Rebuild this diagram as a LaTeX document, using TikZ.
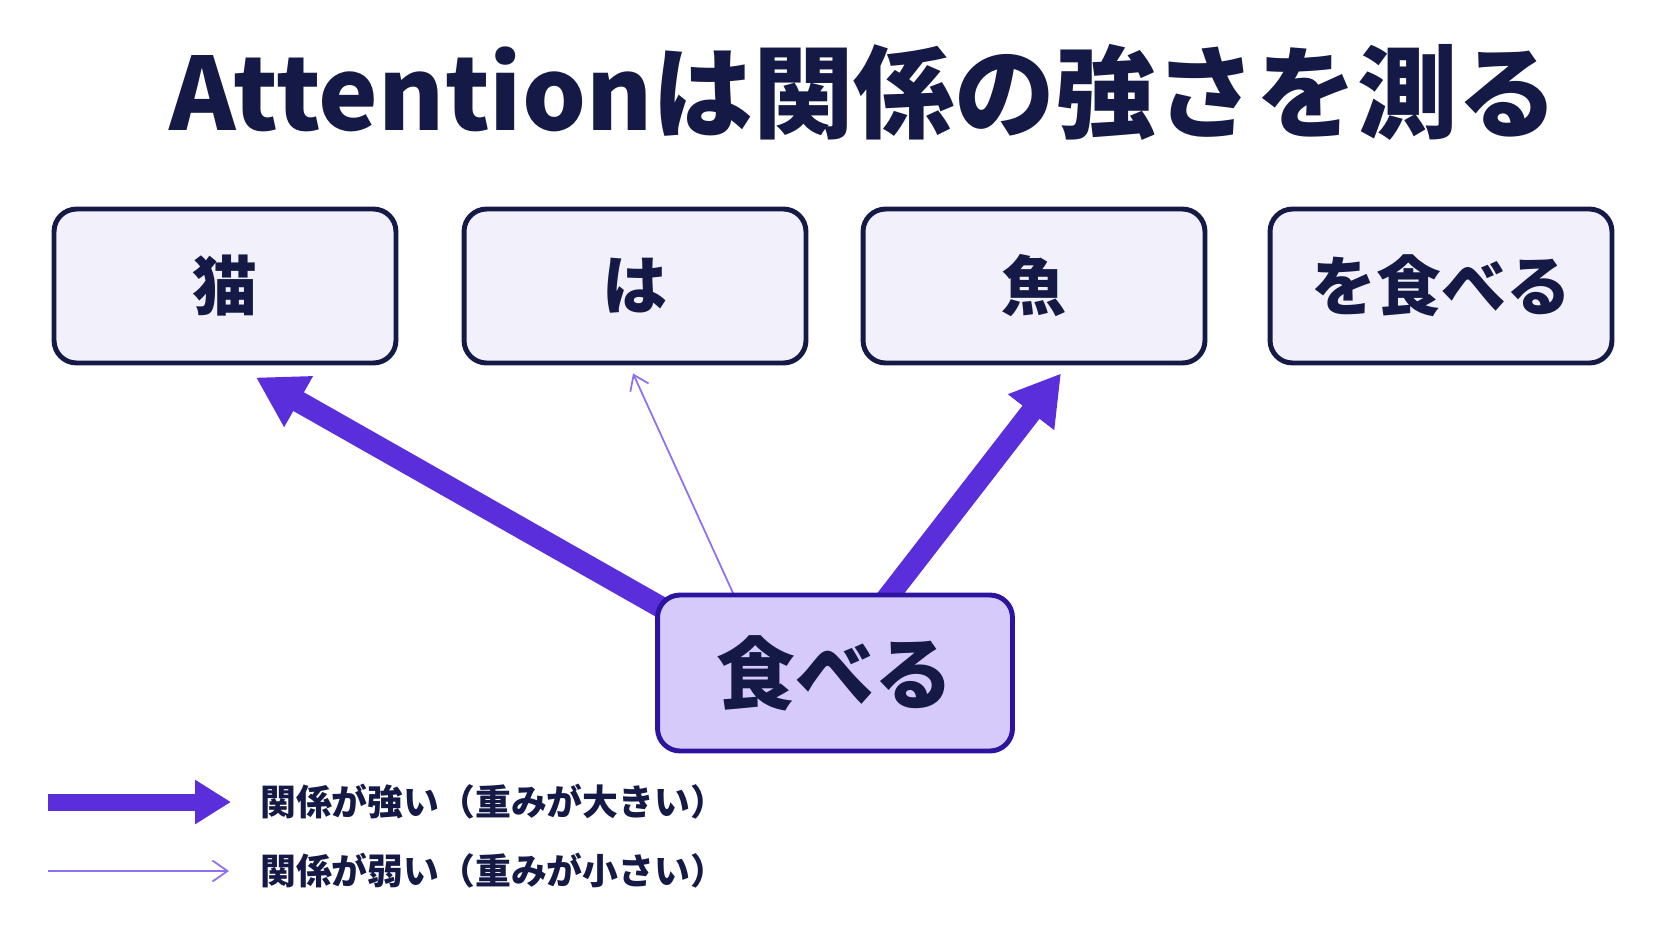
\documentclass[tikz,border=0pt]{standalone}
\usepackage{fontspec}
\setmainfont{Noto Sans CJK JP}
\usetikzlibrary{positioning, calc, arrows.meta, backgrounds}
\definecolor{navy}{HTML}{141A45}
\definecolor{boxfill}{HTML}{F1F0FB}
\definecolor{focusfill}{HTML}{D6CAFB}
\definecolor{focusline}{HTML}{2C149E}
\definecolor{strongc}{HTML}{5B2EDC}
\definecolor{weakc}{HTML}{8E70F2}

\begin{document}
\begin{tikzpicture}[x=0.02cm, y=-0.02cm,
    word/.style={draw=navy, line width=2.8pt, fill=boxfill, rounded corners=0.45cm,
        minimum width=6.84cm, minimum height=3.08cm, text=navy,
        font=\bfseries\fontsize{37}{40}\selectfont},
    focus/.style={word, draw=focusline, fill=focusfill, minimum width=7.1cm,
        minimum height=3.12cm, font=\bfseries\fontsize{45}{48}\selectfont},
    strong/.style={strongc, line width=0.43cm, -{Triangle[length=0.98cm, width=1.1cm]}},
    weak/.style={weakc, line width=1pt, -{Straight Barb[length=0.28cm, width=0.4cm]}},
    keytext/.style={anchor=west, text=navy, font=\bfseries\fontsize{20.4}{22}\selectfont}]
    % Canvas
    \useasboundingbox (0,0) rectangle (1672,941);

    % Title
    \node[text=navy, font=\bfseries\fontsize{57.3}{62}\selectfont] (title) at (864,92)
        {Attentionは関係の強さを測る};

    % Word boxes
    \node[word] (neko) at (225,286) {猫};
    \node[word] (ha) at (635,286) {は};
    \node[word] (sakana) at (1034,286) {魚};
    \node[word] (taberu) at (1441,286) {を食べる};

    % Query word
    \node[focus] (eat) at (835,673) {食べる};

    % Attention weights
    \begin{scope}[on background layer]
        \draw[strong] ($(eat.north west)+(47,38)$) -- ($(neko.south)+(31,12)$);
        \draw[weak] ($(eat.north west)+(80,5)$) -- ($(ha.south)+(-2,8)$);
        \draw[strong] ($(eat.north west)+(220,21)$) -- ($(sakana.south)+(27,8)$);
    \end{scope}

    % Legend
    \coordinate (strongstart) at (48,802);
    \coordinate (strongend) at (231,802);
    \draw[strongc, line width=0.34cm, -{Triangle[length=0.72cm, width=0.84cm]}] (strongstart) -- (strongend);
    \node[keytext] (strongkey) at (254,802) {関係が強い（重みが大きい）};

    \coordinate (weakstart) at (48,871);
    \coordinate (weakend) at (229,871);
    \draw[weakc, line width=1pt, -{Straight Barb[length=0.3cm, width=0.42cm]}] (weakstart) -- (weakend);
    \node[keytext] (weakkey) at (254,871) {関係が弱い（重みが小さい）};
\end{tikzpicture}
\end{document}
